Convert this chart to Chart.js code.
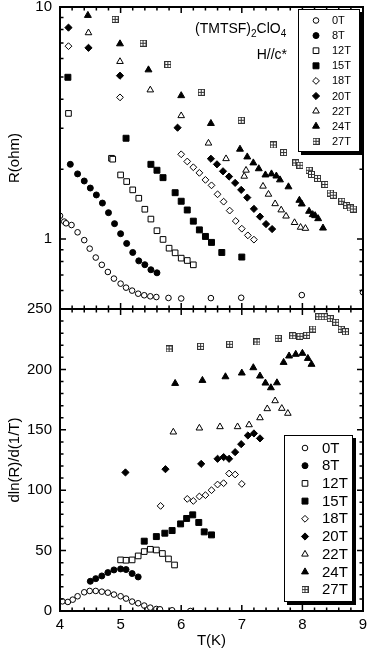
<!DOCTYPE html>
<html>
<head>
<meta charset="utf-8">
<script src="https://cdn.jsdelivr.net/npm/chart.js"></script>
<style>
html, body { margin: 0; padding: 0; background: #fff; }
#wrap { width: 374px; height: 650px; }
</style>
</head>
<body>
<div id="wrap"><canvas id="myChart" width="374" height="650"></canvas></div>
<script>
// field labels
const fields = ['0T', '8T', '12T', '15T', '18T', '20T', '22T', '24T', '27T'];

// top panel : R(ohm) vs T(K)
const r0T = [[4.0,1.26],[4.07,1.19],[4.1,1.17],[4.19,1.15],[4.29,1.07],[4.4,0.99],[4.49,0.91],[4.59,0.833],[4.69,0.775],[4.79,0.722],[4.89,0.676],[5.0,0.643],[5.09,0.618],[5.19,0.6],[5.29,0.582],[5.39,0.573],[5.49,0.567],[5.59,0.563],[5.79,0.558],[6.0,0.555],[6.49,0.557],[6.99,0.559],[7.99,0.574],[9.0,0.59]];
const r8T = [[4.17,2.1],[4.29,1.91],[4.4,1.78],[4.5,1.66],[4.6,1.55],[4.7,1.43],[4.8,1.3],[4.9,1.166],[5.0,1.055],[5.1,0.958],[5.2,0.876],[5.3,0.806],[5.4,0.776],[5.5,0.738],[5.6,0.716]];
const r12T = [[4.14,3.48],[4.85,2.23],[4.87,2.21],[5.0,1.89],[5.1,1.77],[5.2,1.63],[5.3,1.5],[5.4,1.345],[5.5,1.22],[5.6,1.087],[5.7,0.997],[5.8,0.914],[5.9,0.873],[6.0,0.828],[6.1,0.809],[6.2,0.775]];
const r15T = [[4.13,4.98],[5.09,2.72],[5.5,2.1],[5.6,1.98],[5.7,1.84],[5.9,1.585],[6.0,1.456],[6.1,1.335],[6.2,1.195],[6.3,1.096],[6.4,1.027],[6.5,0.968],[6.67,0.876],[7.0,0.837]];
const r18T = [[4.14,6.78],[4.99,4.08],[6.0,2.32],[6.1,2.16],[6.2,2.04],[6.3,1.93],[6.4,1.8],[6.5,1.705],[6.6,1.56],[6.7,1.45],[6.8,1.327],[6.9,1.197],[7.0,1.109],[7.1,1.038],[7.2,0.995]];
const r20T = [[4.14,8.15],[4.47,6.67],[4.99,5.06],[5.94,3.02],[6.49,2.22],[6.59,2.1],[6.69,1.96],[6.79,1.86],[6.89,1.747],[6.99,1.63],[7.09,1.51],[7.2,1.35],[7.3,1.25],[7.4,1.161],[7.5,1.105]];
const r22T = [[4.47,7.74],[4.99,5.82],[5.49,4.39],[6.0,3.4],[6.45,2.59],[6.74,2.22],[7.07,1.98],[7.04,1.865],[7.35,1.69],[7.44,1.56],[7.55,1.42],[7.65,1.335],[7.73,1.256],[7.87,1.178],[7.97,1.124],[8.05,1.112]];
const r24T = [[4.46,9.2],[4.99,6.94],[5.46,5.36],[6.0,4.15],[6.49,3.15],[6.97,2.44],[7.09,2.26],[7.19,2.13],[7.28,2.01],[7.39,1.89],[7.49,1.91],[7.57,1.87],[7.63,1.8],[7.77,1.68],[7.95,1.47],[7.99,1.417],[8.11,1.318],[8.17,1.275],[8.21,1.262],[8.26,1.225],[8.34,1.116]];
const r27T = [[4.91,8.85],[5.37,6.98],[5.78,5.65],[6.33,4.29],[6.99,3.25],[7.52,2.545],[7.69,2.36],[7.89,2.13],[7.96,2.08],[8.11,1.98],[8.15,1.9],[8.25,1.826],[8.37,1.72],[8.46,1.58],[8.51,1.546],[8.65,1.456],[8.73,1.395],[8.79,1.362],[8.84,1.348]];

// bottom panel : dln(R)/d(1/T) vs T(K)
const d0T = [[4.04,8.0],[4.13,7.5],[4.21,9.4],[4.29,12.2],[4.4,15.5],[4.49,16.6],[4.59,16.6],[4.69,16.0],[4.79,15.2],[4.89,13.6],[5.0,12.2],[5.09,10.3],[5.19,7.8],[5.29,6.4],[5.39,4.5],[5.49,2.8],[5.59,1.7],[5.65,1.4],[5.85,0.6],[6.15,0]];
const d8T = [[4.5,24.6],[4.59,26.8],[4.69,29.0],[4.79,31.8],[4.89,34.0],[5.0,34.8],[5.09,34.3],[5.19,31.0],[5.29,28.2]];
const d12T = [[5.0,42.3],[5.09,42.0],[5.19,42.3],[5.29,45.6],[5.39,49.2],[5.49,51.1],[5.59,50.5],[5.69,47.6],[5.79,43.1],[5.89,38.1]];
const d15T = [[5.39,57.8],[5.59,61.6],[5.73,64.4],[5.85,66.6],[5.99,72.1],[6.09,76.6],[6.19,79.6],[6.29,73.3],[6.38,65.5],[6.5,63.0]];
const d18T = [[5.66,87.0],[6.1,92.8],[6.2,91.1],[6.3,94.8],[6.4,95.9],[6.5,100.0],[6.6,104.7],[6.7,105.8],[6.79,113.8],[6.89,113.0],[7.0,105.2]];
const d20T = [[5.08,114.7],[5.74,117.4],[6.33,121.8],[6.6,126.0],[6.7,127.4],[6.79,126.0],[6.89,131.5],[6.99,138.1],[7.1,145.3],[7.2,147.0],[7.3,142.9]];
const d22T = [[5.87,148.1],[6.3,151.4],[6.64,152.5],[6.93,152.5],[7.12,154.1],[7.3,159.9],[7.42,167.4],[7.55,174.0],[7.66,167.7],[7.76,163.6]];
const d24T = [[5.9,188.4],[6.35,190.9],[6.73,193.9],[7.0,197.0],[7.19,201.4],[7.3,194.5],[7.39,188.7],[7.48,184.8],[7.58,188.9],[7.69,205.8],[7.78,211.1],[7.89,212.5],[8.0,213.3],[8.09,209.1],[8.15,204.2]];
const d27T = [[5.8,216.9],[6.32,219.1],[6.8,220.8],[7.25,222.7],[7.6,225.7],[7.84,227.9],[7.96,227.4],[8.07,228.2],[8.17,233.4],[8.27,243.6],[8.36,243.6],[8.46,242.0],[8.55,239.0],[8.64,233.2],[8.71,231.2]];

const rSeries = [r0T, r8T, r12T, r15T, r18T, r20T, r22T, r24T, r27T];
const dSeries = [d0T, d8T, d12T, d15T, d18T, d20T, d22T, d24T, d27T];

// tick values
const xTicks = [4, 5, 6, 7, 8, 9];
const rTicks = [1, 10];
const rMinor = [0.5, 0.6, 0.7, 0.8, 0.9, 2, 3, 4, 5, 6, 7, 8, 9];
const dTicks = [0, 50, 100, 150, 200, 250];

// little square with a cross for 27T
function gridBox() {
  let c = document.createElement('canvas');
  c.width = 7; c.height = 7;
  let g = c.getContext('2d');
  g.fillStyle = '#fff';
  g.fillRect(0, 0, 7, 7);
  g.strokeStyle = '#333';
  g.lineWidth = 1;
  g.strokeRect(0.5, 0.5, 6, 6);
  g.beginPath();
  g.moveTo(3.5, 0.5); g.lineTo(3.5, 6.5);
  g.moveTo(0.5, 3.5); g.lineTo(6.5, 3.5);
  g.stroke();
  return c;
}

const styles = ['circle', 'circle', 'rect', 'rect', 'rectRot', 'rectRot', 'triangle', 'triangle', gridBox()];
const filled = [false, true, false, true, false, true, false, true, false];
const radii = [2.8, 3, 4, 4.2, 3.4, 3.6, 3.8, 4, 3.5];

const FONT = "'Liberation Sans', Arial, Helvetica, sans-serif";
Chart.defaults.font.family = FONT;
Chart.defaults.color = '#000';

function makeSet(series, i, axis) {
  return {
    label: fields[i],
    data: series.map(p => ({x: p[0], y: p[1]})),
    yAxisID: axis,
    pointStyle: styles[i],
    pointRadius: radii[i],
    pointHoverRadius: radii[i],
    backgroundColor: filled[i] ? '#000' : '#fff',
    borderColor: '#000',
    pointBorderWidth: 1,
    showLine: false
  };
}

let datasets = [];
rSeries.forEach((s, i) => datasets.push(makeSet(s, i, 'yR')));
dSeries.forEach((s, i) => datasets.push(makeSet(s, i, 'yD')));

// no extra padding from tick labels, the layout padding does it
function noPad(s) {
  s.paddingTop = 0; s.paddingBottom = 0; s.paddingLeft = 0; s.paddingRight = 0;
}

// frames + inward ticks on every side
const frameTicks = {
  id: 'frameTicks',
  afterDatasetsDraw(chart) {
    let ctx = chart.ctx;
    let sx = chart.scales.x, yR = chart.scales.yR, yD = chart.scales.yD;
    let L = chart.chartArea.left, Rg = chart.chartArea.right;
    ctx.save();
    ctx.strokeStyle = '#000';
    ctx.lineWidth = 1.5;
    ctx.beginPath();
    [yR, yD].forEach(ys => {
      for (let i = 0; i <= 25; i++) {
        let px = sx.getPixelForValue(4 + i * 0.2);
        let len = i % 5 === 0 ? 6 : 3.5;
        ctx.moveTo(px, ys.top); ctx.lineTo(px, ys.top + len);
        ctx.moveTo(px, ys.bottom); ctx.lineTo(px, ys.bottom - len);
      }
    });
    rTicks.concat(rMinor).forEach(v => {
      let py = yR.getPixelForValue(v);
      let len = rTicks.includes(v) ? 6 : 3.5;
      ctx.moveTo(L, py); ctx.lineTo(L + len, py);
      ctx.moveTo(Rg, py); ctx.lineTo(Rg - len, py);
    });
    for (let v = 0; v <= 250; v += 10) {
      let py = yD.getPixelForValue(v);
      let len = v % 50 === 0 ? 6 : 3.5;
      ctx.moveTo(L, py); ctx.lineTo(L + len, py);
      ctx.moveTo(Rg, py); ctx.lineTo(Rg - len, py);
    }
    ctx.stroke();
    ctx.lineWidth = 2;
    ctx.strokeRect(L, yR.top, Rg - L, yR.bottom - yR.top);
    ctx.strokeRect(L, yD.top, Rg - L, yD.bottom - yD.top);
    ctx.restore();
  }
};

// legends inside both panels
function drawLegend(chart, box, fontSize) {
  let ctx = chart.ctx;
  ctx.save();
  ctx.fillStyle = '#000';
  ctx.fillRect(box.x + 3, box.y + 3, box.w, box.h);
  ctx.fillStyle = '#fff';
  ctx.fillRect(box.x, box.y, box.w, box.h);
  ctx.strokeStyle = '#000';
  ctx.lineWidth = 1;
  ctx.strokeRect(box.x + 0.5, box.y + 0.5, box.w - 1, box.h - 1);
  ctx.font = fontSize + 'px ' + FONT;
  ctx.textBaseline = 'middle';
  ctx.textAlign = 'left';
  fields.forEach((f, i) => {
    let y = box.row0 + i * box.step;
    ctx.fillStyle = filled[i] ? '#000' : '#fff';
    ctx.strokeStyle = '#000';
    ctx.lineWidth = 1;
    Chart.helpers.drawPoint(ctx, {pointStyle: styles[i], radius: radii[i], borderWidth: 1, rotation: 0}, box.mx, y);
    ctx.fillStyle = '#000';
    ctx.fillText(f, box.tx, y + 0.5);
  });
  ctx.restore();
}

const legendsAndText = {
  id: 'legendsAndText',
  afterDraw(chart) {
    drawLegend(chart, {x: 298, y: 9, w: 62, h: 143, row0: 20.5, step: 15.1, mx: 316, tx: 332}, 11);
    drawLegend(chart, {x: 284, y: 435, w: 69, h: 167, row0: 448, step: 17.7, mx: 305, tx: 322}, 15);
    let ctx = chart.ctx;
    ctx.save();
    ctx.fillStyle = '#000';
    ctx.textBaseline = 'alphabetic';
    ctx.textAlign = 'left';
    let x = 195, base = 33;
    let parts = [['(TMTSF)', 0], ['2', 1], ['ClO', 0], ['4', 1]];
    parts.forEach(p => {
      ctx.font = (p[1] ? 10 : 14) + 'px ' + FONT;
      ctx.fillText(p[0], x, base + (p[1] ? 4 : 0));
      x += ctx.measureText(p[0]).width;
    });
    ctx.font = '14px ' + FONT;
    ctx.textAlign = 'right';
    ctx.fillText('H//c*', 287, 59);
    ctx.restore();
  }
};

const ctx = document.getElementById('myChart');
new Chart(ctx, {
  type: 'scatter',
  data: { datasets: datasets },
  options: {
    responsive: false,
    animation: false,
    devicePixelRatio: 1,
    layout: { padding: { top: 7, right: 11, bottom: 0, left: 0 } },
    plugins: { legend: { display: false }, tooltip: { enabled: false } },
    scales: {
      x: {
        type: 'linear', min: 4, max: 9,
        afterBuildTicks: s => { s.ticks = xTicks.map(v => ({value: v})); },
        ticks: { padding: 5, font: { size: 15 }, color: '#000' },
        grid: { display: false, drawTicks: false },
        border: { display: false },
        title: { display: true, text: 'T(K)', font: { size: 15 }, color: '#000', padding: { top: 0, bottom: 0 } },
        afterFit: s => { s.height = 39; noPad(s); }
      },
      yR: {
        type: 'logarithmic', position: 'left', stack: 'panels', stackWeight: 1, weight: 2,
        min: 0.5, max: 10,
        afterBuildTicks: s => { s.ticks = rTicks.map(v => ({value: v})); },
        ticks: { padding: 8, font: { size: 15 }, color: '#000', callback: v => String(v) },
        grid: { display: false, drawTicks: false },
        border: { display: false },
        title: { display: true, text: 'R(ohm)', font: { size: 15 }, color: '#000', padding: { top: 6, bottom: 0 } },
        afterFit: s => { s.width = 60; noPad(s); }
      },
      yD: {
        type: 'linear', position: 'left', stack: 'panels', stackWeight: 1, weight: 1,
        min: 0, max: 250,
        afterBuildTicks: s => { s.ticks = dTicks.map(v => ({value: v})); },
        ticks: { padding: 8, font: { size: 15 }, color: '#000' },
        grid: { display: false, drawTicks: false },
        border: { display: false },
        title: { display: true, text: 'dln(R)/d(1/T)', font: { size: 15 }, color: '#000', padding: { top: 6, bottom: 0 } },
        afterFit: s => { s.width = 60; noPad(s); }
      }
    }
  },
  plugins: [frameTicks, legendsAndText]
});
</script>
</body>
</html>
